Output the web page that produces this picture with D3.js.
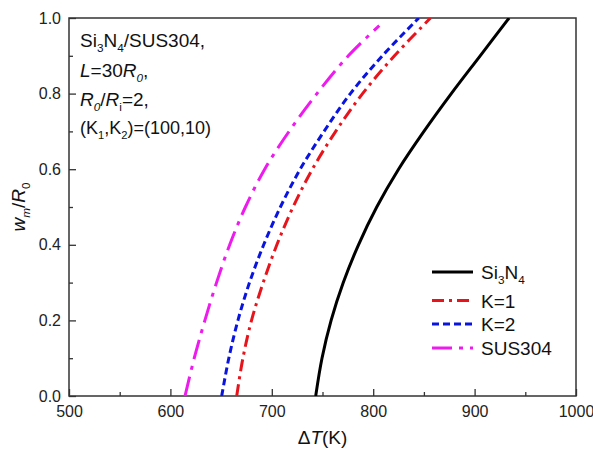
<!DOCTYPE html>
<html>
<head>
	<title>wm/R0 vs Delta T</title>
	<meta charset="utf-8">
	<script src="https://cdnjs.cloudflare.com/ajax/libs/d3/7.8.5/d3.min.js"></script>
	<style>
		body { margin: 0; background: #fff; }
		text { font-family: Arial, "Liberation Sans", sans-serif; }
	</style>
</head>
<body>
	<script type="text/javascript">

		// data: w_m/R_0 levels and the Delta T (K) of each curve there
		let wLevels = [0, 0.1, 0.2, 0.3, 0.4, 0.5, 0.6, 0.7, 0.8, 0.9, 1.0];
		let tSi3N4 = [743.3, 749.5, 758.5, 770.5, 785.5, 803.5, 825, 850, 877, 905.5, 934];
		let tK1 = [665.4, 671.5, 680, 691.5, 705, 721, 740, 763, 789.5, 821, 856.5];
		let tK2 = [650.6, 657.6, 666.6, 678, 692, 708.5, 728, 751.5, 777.5, 809, 845];
		// SUS304 stops a little below the top of the frame
		let wSUS = [0, 0.1, 0.2, 0.3, 0.4, 0.5, 0.6, 0.7, 0.8, 0.9, 0.98];
		let tSUS = [614.4, 623.5, 634, 645.5, 658.5, 674, 693, 717, 744.5, 775.5, 806];

		let xTicks = [500, 600, 700, 800, 900, 1000];
		let yTicks = [0, 0.2, 0.4, 0.6, 0.8, 1.0];

		let W = 593, H = 456;
		let m = {left: 69, right: 17, top: 18, bottom: 60};

		let svg = d3.select('body').append('svg')
			.attr('width', W)
			.attr('height', H);

		let x = d3.scaleLinear().domain([500, 1000]).range([m.left, W - m.right]);
		let y = d3.scaleLinear().domain([0, 1]).range([H - m.bottom, m.top]);

		//minor ticks first, no labels
		let xMinor = xTicks.slice(0, -1).map(d => d + 50);
		let yMinor = yTicks.slice(0, -1).map(d => d + 0.1);

		svg.append('g')
			.attr('transform', 'translate(0,' + (H - m.bottom) + ')')
			.call(d3.axisBottom(x).tickValues(xMinor).tickSize(-4).tickFormat(''))
			.call(g => g.select('.domain').remove());
		svg.append('g')
			.attr('transform', 'translate(' + m.left + ',0)')
			.call(d3.axisLeft(y).tickValues(yMinor).tickSize(-4).tickFormat(''))
			.call(g => g.select('.domain').remove());

		let xAxis = svg.append('g')
			.attr('transform', 'translate(0,' + (H - m.bottom) + ')')
			.call(d3.axisBottom(x).tickValues(xTicks).tickSize(-7).tickPadding(10).tickFormat(d3.format('d')));
		let yAxis = svg.append('g')
			.attr('transform', 'translate(' + m.left + ',0)')
			.call(d3.axisLeft(y).tickValues(yTicks).tickSize(-7).tickPadding(8).tickFormat(d3.format('.1f')));

		[xAxis, yAxis].forEach(g => {
			g.select('.domain').remove();
			g.selectAll('text').attr('font-size', 16).attr('fill', '#222').attr('font-family', null);
		});
		svg.selectAll('.tick line').attr('stroke', '#333').attr('stroke-width', 1.3);

		// frame
		svg.append('rect')
			.attr('x', m.left)
			.attr('y', m.top)
			.attr('width', W - m.left - m.right)
			.attr('height', H - m.top - m.bottom)
			.attr('fill', 'none')
			.attr('stroke', '#333')
			.attr('stroke-width', 1.5);

		let series = [
			{name: 'Si3N4', t: tSi3N4, w: wLevels, color: '#000000', dash: null},
			{name: 'K=1', t: tK1, w: wLevels, color: '#e8141c', dash: '12,5,3,5'},
			{name: 'K=2', t: tK2, w: wLevels, color: '#0a14e0', dash: '7,4'},
			{name: 'SUS304', t: tSUS, w: wSUS, color: '#ee1aee', dash: '20,7,4,7'}
		];

		let line = d3.line()
			.x(d => x(d[0]))
			.y(d => y(d[1]))
			.curve(d3.curveCatmullRom.alpha(0.5));

		svg.append('clipPath').attr('id', 'plot')
			.append('rect')
			.attr('x', m.left).attr('y', m.top)
			.attr('width', W - m.left - m.right).attr('height', H - m.top - m.bottom);

		svg.append('g').attr('clip-path', 'url(#plot)')
			.selectAll('path').data(series).enter().append('path')
			.attr('d', s => line(s.t.map((t, i) => [t, s.w[i]])))
			.attr('fill', 'none')
			.attr('stroke', s => s.color)
			.attr('stroke-width', 3)
			.attr('stroke-dasharray', s => s.dash);

		// legend
		let legY = [272, 300.5, 324, 348];
		let leg = svg.append('g');
		series.forEach((s, i) => {
			leg.append('line')
				.attr('x1', 432).attr('x2', 473)
				.attr('y1', legY[i]).attr('y2', legY[i])
				.attr('stroke', s.color)
				.attr('stroke-width', 3)
				.attr('stroke-dasharray', s.dash);
		});
		function addText(parent, xx, yy, parts, size) {
			let t = parent.append('text').attr('x', xx).attr('y', yy)
				.attr('font-size', size).attr('fill', '#111');
			parts.forEach(p => {
				// p = [text, italic, sub, back up]
				let sp = t.append('tspan').text(p[0]);
				if (p[1]) sp.attr('font-style', 'italic');
				if (p[2]) sp.attr('font-size', size * 0.62).attr('dy', 5);
				if (p[3]) sp.attr('dy', -5);
			});
			return t;
		}
		addText(leg, 481, legY[0] + 7, [['Si'], ['3', 0, 1], ['N', 0, 0, 1], ['4', 0, 1]], 19);
		addText(leg, 481, legY[1] + 7, [['K=1']], 19);
		addText(leg, 481, legY[2] + 7, [['K=2']], 19);
		addText(leg, 481, legY[3] + 7, [['SUS304']], 19);

		// annotation block
		let note = svg.append('g');
		addText(note, 80, 47, [['Si'], ['3', 0, 1], ['N', 0, 0, 1], ['4', 0, 1], ['/SUS304,', 0, 0, 1]], 19);
		addText(note, 80, 77, [['L', 1], ['=30'], ['R', 1], ['0', 1, 1], [',', 0, 0, 1]], 19);
		addText(note, 80, 106, [['R', 1], ['0', 1, 1], ['/', 0, 0, 1], ['R', 1], ['i', 0, 1], ['=2,', 0, 0, 1]], 19);
		addText(note, 80, 134, [['(K'], ['1', 0, 1], [',K', 0, 0, 1], ['2', 0, 1], [')=(100,10)', 0, 0, 1]], 18);

		// axis titles
		addText(svg, 0, 0, [['\u0394'], ['T', 1], ['(K)']], 19)
			.attr('x', x(750)).attr('y', 444).attr('text-anchor', 'middle');
		addText(svg, 0, 0, [['w', 1], ['m', 1, 1], ['/', 0, 0, 1], ['R', 1], ['0', 0, 1]], 19)
			.attr('text-anchor', 'middle')
			.attr('transform', 'translate(25,' + y(0.5) + ') rotate(-90)');

	</script>
</body>
</html>
